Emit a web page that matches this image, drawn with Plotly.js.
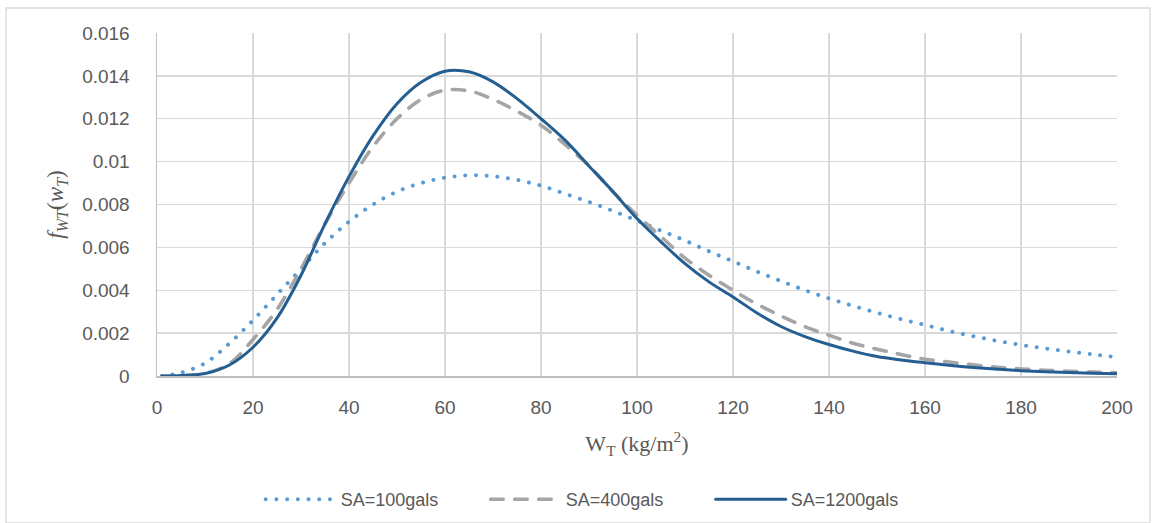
<!DOCTYPE html>
<html>
<head>
<meta charset="utf-8">
<script src="https://cdn.plot.ly/plotly-3.0.1.min.js"></script>
<style>
html,body{margin:0;padding:0;background:#fff;}
#chart{width:1155px;height:523px;}
path.js-line{stroke-linecap:round;}
</style>
</head>
<body>
<div id="chart"></div>
<script>
// W_T values (kg/m^2)
const wT = [1, 5, 10, 15, 20, 25, 30, 35, 40, 45, 50, 55, 60, 65, 70, 75, 80, 85, 90, 95, 100,
            105, 110, 115, 120, 125, 130, 135, 140, 145, 150, 155, 160, 165, 170, 175, 180, 185, 190, 195, 200];

// SA = 100 gals (dotted)
const sa100 = [0, 0.00015, 0.0006, 0.0015, 0.0026, 0.0038, 0.0050, 0.0062, 0.0072, 0.0080, 0.0086, 0.0090, 0.00925, 0.00936, 0.00932, 0.00915, 0.00888, 0.0085, 0.00812, 0.0077, 0.00725,
               0.00678, 0.00632, 0.00582, 0.00535, 0.00487, 0.00443, 0.0040, 0.00362, 0.00327, 0.00295, 0.00265, 0.00238, 0.00210, 0.00186, 0.00164, 0.00145, 0.00129, 0.00114, 0.00101, 0.00088];

// SA = 400 gals (dashed)
const sa400 = [0, 0.00001, 0.00012, 0.00056, 0.0017, 0.0031, 0.0050, 0.0071, 0.0090, 0.0107, 0.0120, 0.0129, 0.01333, 0.0133, 0.0129, 0.01235, 0.0117, 0.0108, 0.0098, 0.0086, 0.0075,
               0.0065, 0.0055, 0.0047, 0.0040, 0.00335, 0.0028, 0.0023, 0.0019, 0.00153, 0.00125, 0.001, 0.00078, 0.00065, 0.00052, 0.00041, 0.00033, 0.00027, 0.00022, 0.00018, 0.00015];

// SA = 1200 gals (solid)
const sa1200 = [0, 0.00002, 0.00012, 0.0005, 0.00134, 0.0027, 0.0047, 0.0071, 0.0093, 0.0112, 0.0127, 0.0137, 0.01422, 0.01419, 0.01372, 0.01294, 0.0120, 0.0110, 0.0098, 0.0086, 0.00735,
                0.00626, 0.00524, 0.00439, 0.00369, 0.00294, 0.00231, 0.00184, 0.00147, 0.00116, 0.00091, 0.00075, 0.00062, 0.0005, 0.0004, 0.00032, 0.00025, 0.0002, 0.00016, 0.00013, 0.00011];

const seriesNames = ['SA=100gals', 'SA=400gals', 'SA=1200gals'];
const xTicks = [0, 20, 40, 60, 80, 100, 120, 140, 160, 180, 200];
const yTicks = [0, 0.002, 0.004, 0.006, 0.008, 0.01, 0.012, 0.014, 0.016];
const yTickText = ['0', '0.002', '0.004', '0.006', '0.008', '0.01', '0.012', '0.014', '0.016'];

const traces = [
  {x: wT, y: sa100, name: seriesNames[0], mode: 'lines', type: 'scatter',
   line: {color: '#5b9bd5', width: 4, dash: '0.01px,10.7px', shape: 'spline', smoothing: 1}},
  {x: wT, y: sa400, name: seriesNames[1], mode: 'lines', type: 'scatter',
   line: {color: '#a5a5a5', width: 3.6, dash: '12.5px,11.5px', shape: 'spline', smoothing: 1}},
  {x: wT, y: sa1200, name: seriesNames[2], mode: 'lines', type: 'scatter',
   line: {color: '#255e91', width: 3, shape: 'spline', smoothing: 1}}
];

const tickFont = {family: 'Liberation Sans, Arial, sans-serif', size: 19, color: '#595959'};

const layout = {
  width: 1155, height: 523,
  margin: {l: 157, r: 38, t: 33, b: 147, pad: 0, autoexpand: false},
  paper_bgcolor: '#ffffff', plot_bgcolor: '#ffffff',
  showlegend: true,
  xaxis: {
    range: [0, 200], tickvals: xTicks, ticktext: xTicks.map(String),
    showgrid: true, gridcolor: '#d9d9d9', gridwidth: 1.3,
    showline: true, linecolor: '#bfbfbf', linewidth: 1.5,
    zeroline: false, ticks: '', tickfont: tickFont, ticklabelstandoff: 14,
    title: {text: 'W<sub>T</sub> (kg/m<sup>2</sup>)', standoff: 18,
            font: {family: 'Liberation Serif, Times New Roman, serif', size: 22, color: '#595959'}},
    automargin: false, fixedrange: true
  },
  yaxis: {
    range: [0, 0.016], tickvals: yTicks, ticktext: yTickText,
    showgrid: true, gridcolor: '#d9d9d9', gridwidth: 1.3,
    showline: true, linecolor: '#bfbfbf', linewidth: 1.5,
    zeroline: false, ticks: '', tickfont: tickFont, ticklabelstandoff: 22,
    title: {text: '<i>f</i><sub><i>WT</i></sub>(<i>w</i><sub><i>T</i></sub>)', standoff: 12,
            font: {family: 'Liberation Serif, Times New Roman, serif', size: 23, color: '#595959'}},
    automargin: false, fixedrange: true
  },
  legend: {
    orientation: 'h', x: 0.108, xanchor: 'left', y: -0.36, yanchor: 'middle',
    font: {family: 'Liberation Sans, Arial, sans-serif', size: 18, color: '#595959'},
    itemwidth: 70, entrywidth: 140, entrywidthmode: 'pixels',
    bgcolor: 'rgba(0,0,0,0)', traceorder: 'normal'
  },
  shapes: [
    {type: 'rect', xref: 'paper', yref: 'paper',
     x0: (6 - 157) / 960, x1: (1150 - 157) / 960,
     y0: (376 - 523) / 343, y1: 1 + (33 - 8) / 343,
     line: {color: '#d9d9d9', width: 1.3}, fillcolor: 'rgba(0,0,0,0)', layer: 'below'}
  ]
};

Plotly.newPlot('chart', traces, layout, {displayModeBar: false, staticPlot: true});
</script>
</body>
</html>
